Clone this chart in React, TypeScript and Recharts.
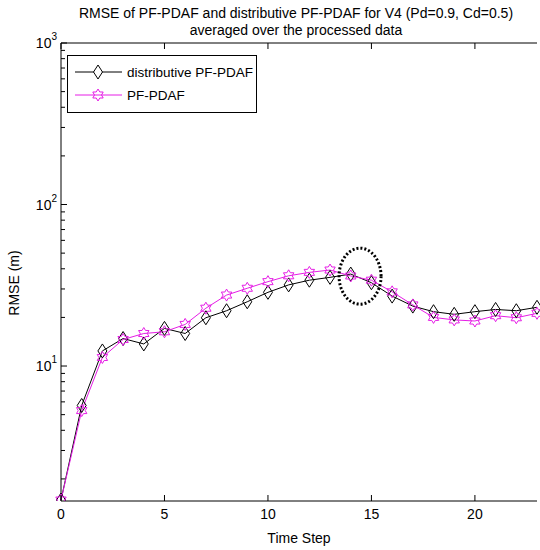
import { LineChart, Line, XAxis, YAxis, Legend, ReferenceDot } from 'recharts'

// Time steps on the x axis
const timeSteps = [0, 1, 2, 3, 4, 5, 6, 7, 8, 9, 10, 11, 12, 13, 14, 15, 16, 17, 18, 19, 20, 21, 22, 23]
// RMSE (m)
const distributiveRmse = [1.48, 5.7, 12.4, 14.8, 13.7, 17.1, 15.9, 19.9, 22.0, 25.0, 28.6, 31.8, 34.0, 35.4, 37.1, 32.8, 27.1, 23.5, 21.7, 20.9, 21.7, 22.4, 22.0, 23.1]
const pfPdafRmse = [1.48, 5.3, 11.3, 14.6, 15.9, 16.3, 18.1, 22.8, 27.5, 30.3, 33.3, 36.2, 38.0, 39.3, 36.1, 34.0, 28.8, 23.9, 20.0, 19.3, 19.0, 20.5, 19.9, 21.2]

const xTicks = [0, 5, 10, 15, 20]
const yTicks = [2, 3, 4, 5, 6, 7, 8, 9, 10, 20, 30, 40, 50, 60, 70, 80, 90, 100, 200, 300, 400, 500, 600, 700, 800, 900, 1000]
const majorY = [10, 100, 1000]

// highlighted region (dotted ellipse)
const highlightX = 14.45
const highlightY = 36

const titleLines = [
  'RMSE of PF-PDAF and distributive PF-PDAF for V4 (Pd=0.9, Cd=0.5)',
  'averaged over the processed data',
]

const data = timeSteps.map((t, i) => ({ t, dist: distributiveRmse[i], pf: pfPdafRmse[i] }))

const FONT = '"Liberation Sans", Arial, sans-serif'
const MAGENTA = '#e61ee6'

const diamondPts = (cx: number, cy: number) =>
  `${cx},${cy - 7} ${cx + 4.5},${cy} ${cx},${cy + 7} ${cx - 4.5},${cy}`

const hexagramPts = (cx: number, cy: number) => {
  const pts: string[] = []
  for (let k = 0; k < 12; k++) {
    const r = k % 2 === 0 ? 6 : 3.5
    const a = -Math.PI / 2 + (k * Math.PI) / 6
    pts.push(`${cx + r * Math.cos(a)},${cy + r * Math.sin(a)}`)
  }
  return pts.join(' ')
}

const DiamondDot = ({ cx, cy, index }: any) => (
  <polygon key={index} points={diamondPts(cx, cy)} fill="none" stroke="#000" strokeWidth={1} />
)

const StarDot = ({ cx, cy, index }: any) => (
  <polygon key={index} points={hexagramPts(cx, cy)} fill="none" stroke={MAGENTA} strokeWidth={1} />
)

const BottomTick = ({ x, y, payload }: any) => (
  <g>
    <line x1={x} y1={y} x2={x} y2={y - 6} stroke="#000" />
    <text x={x} y={y + 18} textAnchor="middle" fontSize={14} fontFamily={FONT} fill="#000">
      {payload.value}
    </text>
  </g>
)

const TopTick = ({ x, y }: any) => <line x1={x} y1={y} x2={x} y2={y + 6} stroke="#000" />

const LeftTick = ({ x, y, payload }: any) => {
  const major = majorY.includes(payload.value)
  return (
    <g>
      <line x1={x} y1={y} x2={x + (major ? 6 : 4)} y2={y} stroke="#000" />
      {major && (
        <text x={x - 4} y={y + 5} textAnchor="end" fontSize={14} fontFamily={FONT} fill="#000">
          10
          <tspan dy={-8} fontSize={10}>
            {Math.round(Math.log10(payload.value))}
          </tspan>
        </text>
      )}
    </g>
  )
}

const RightTick = ({ x, y, payload }: any) => {
  const major = majorY.includes(payload.value)
  return <line x1={x} y1={y} x2={x - (major ? 6 : 4)} y2={y} stroke="#000" />
}

const LegendBox = () => (
  <svg width={190} height={58} style={{ display: 'block' }}>
    <rect x={0.5} y={0.5} width={189} height={57} fill="#fff" stroke="#000" />
    <line x1={8} y1={17} x2={55} y2={17} stroke="#000" />
    <polygon points={diamondPts(31, 17)} fill="#fff" stroke="#000" />
    <text x={60} y={22} fontSize={13.5} fontFamily={FONT} fill="#000">distributive PF-PDAF</text>
    <line x1={8} y1={40} x2={55} y2={40} stroke={MAGENTA} />
    <polygon points={hexagramPts(31, 40)} fill="none" stroke={MAGENTA} />
    <text x={60} y={45} fontSize={13.5} fontFamily={FONT} fill="#000">PF-PDAF</text>
  </svg>
)

const EllipseShape = ({ cx, cy }: any) => (
  <ellipse cx={cx} cy={cy} rx={21} ry={28} fill="none" stroke="#000" strokeWidth={3} strokeDasharray="2 2" />
)

export default function App() {
  return (
    <div style={{ position: 'absolute', left: 0, top: 0, width: 540, height: 550, background: '#fff', fontFamily: FONT }}>
      <LineChart width={540} height={550} data={data} margin={{ top: 42, right: 3, bottom: 19, left: 11 }}>
        <XAxis
          xAxisId="bottom"
          dataKey="t"
          type="number"
          domain={[0, 23]}
          ticks={xTicks}
          interval={0}
          tickSize={0}
          tickMargin={0}
          tickLine={false}
          tick={<BottomTick />}
          height={30}
          stroke="#000"
          label={{ value: 'Time Step', position: 'insideBottom', offset: -12, fill: '#000', fontSize: 14, fontFamily: FONT }}
        />
        <XAxis
          xAxisId="top"
          orientation="top"
          dataKey="t"
          type="number"
          domain={[0, 23]}
          ticks={xTicks}
          interval={0}
          tickSize={0}
          tickMargin={0}
          tickLine={false}
          tick={<TopTick />}
          height={1}
          stroke="#000"
        />
        <YAxis
          yAxisId="left"
          type="number"
          scale="log"
          domain={[1.46, 1000]}
          allowDataOverflow
          ticks={yTicks}
          interval={0}
          tickSize={0}
          tickMargin={0}
          tickLine={false}
          tick={<LeftTick />}
          width={50}
          stroke="#000"
          label={{ value: 'RMSE (m)', angle: -90, position: 'insideLeft', offset: 3, dy: 11, fill: '#000', fontSize: 14, fontFamily: FONT, style: { textAnchor: 'middle' } }}
        />
        <YAxis
          yAxisId="right"
          orientation="right"
          type="number"
          scale="log"
          domain={[1.46, 1000]}
          allowDataOverflow
          ticks={yTicks}
          interval={0}
          tickSize={0}
          tickMargin={0}
          tickLine={false}
          tick={<RightTick />}
          width={0}
          stroke="#000"
        />
        <Legend
          layout="vertical"
          verticalAlign="middle"
          align="center"
          content={<LegendBox />}
          wrapperStyle={{ position: 'absolute', left: 67, top: 55, width: 190, height: 58 }}
        />
        <Line
          xAxisId="bottom"
          yAxisId="left"
          dataKey="dist"
          name="distributive PF-PDAF"
          stroke="#000"
          strokeWidth={1}
          dot={<DiamondDot />}
          activeDot={false}
          isAnimationActive={false}
        />
        <Line
          xAxisId="bottom"
          yAxisId="left"
          dataKey="pf"
          name="PF-PDAF"
          stroke={MAGENTA}
          strokeWidth={1}
          dot={<StarDot />}
          activeDot={false}
          isAnimationActive={false}
        />
        <ReferenceDot xAxisId="bottom" yAxisId="left" x={highlightX} y={highlightY} shape={<EllipseShape />} />
      </LineChart>
      <div
        style={{
          position: 'absolute',
          left: 0,
          top: 5,
          width: 592,
          textAlign: 'center',
          fontSize: 14,
          lineHeight: '17px',
          color: '#000',
          fontFamily: FONT,
        }}
      >
        {titleLines.map((l) => (
          <div key={l}>{l}</div>
        ))}
      </div>
    </div>
  )
}
